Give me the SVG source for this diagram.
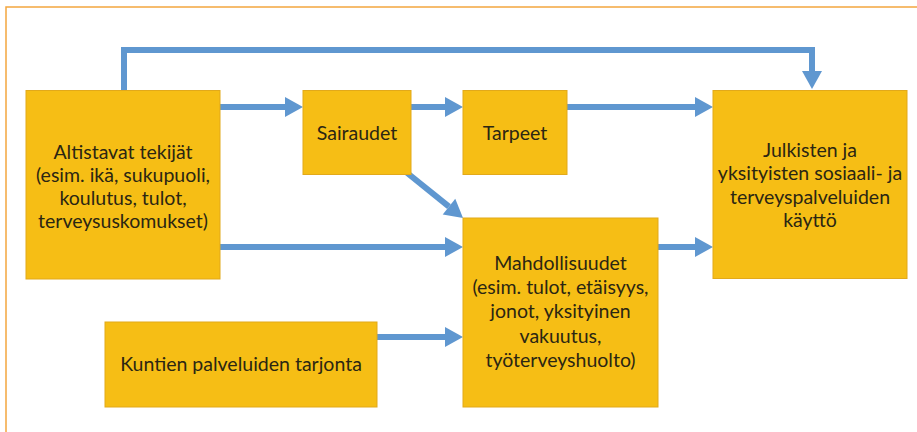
<svg xmlns="http://www.w3.org/2000/svg" width="917" height="432" viewBox="0 0 917 432">
  <defs>
    <style>
      .box { fill: #F6BE15; stroke: #E2A91A; stroke-width: 1; }
      .lbl { font-family: Lato, "Open Sans", "Liberation Sans", sans-serif; font-size: 19.5px; fill: #2B2613; text-anchor: middle; }
      .conn { fill: none; stroke: #5F97D0; stroke-width: 6; stroke-linejoin: miter; marker-end: url(#ah); }
    </style>
    <marker id="ah" markerUnits="userSpaceOnUse" markerWidth="20" markerHeight="20" refX="0" refY="10" orient="auto" overflow="visible">
      <path d="M0,0 L18,10 L0,20 z" fill="#5F97D0"/>
    </marker>
  </defs>
  <rect x="0" y="0" width="917" height="432" fill="#FFFFFF"/>
  <path d="M6,440 L6,7 L925,7" fill="none" stroke="#F4A63F" stroke-width="1.5"/>

  <g id="connectors">
    <polyline class="conn" points="124,90 124,50 812,50 812,71"/>
    <line class="conn" x1="220" y1="107" x2="285" y2="107"/>
    <line class="conn" x1="411" y1="107" x2="445" y2="107"/>
    <line class="conn" x1="567" y1="107" x2="695" y2="107"/>
    <line class="conn" x1="406" y1="172" x2="449" y2="206.6"/>
    <line class="conn" x1="220" y1="247" x2="445" y2="247"/>
    <line class="conn" x1="658" y1="247" x2="695" y2="247"/>
    <line class="conn" x1="377" y1="337" x2="445" y2="337"/>
  </g>

  <g id="altistavat">
    <rect class="box" x="26" y="90.5" width="194" height="188.5"/>
    <text class="lbl" x="123" y="159">Altistavat tekijät</text>
    <text class="lbl" x="123" y="182">(esim. ikä, sukupuoli,</text>
    <text class="lbl" x="123" y="205">koulutus, tulot,</text>
    <text class="lbl" x="123" y="228">terveysuskomukset)</text>
  </g>

  <g id="sairaudet">
    <rect class="box" x="303" y="90.5" width="108" height="84"/>
    <text class="lbl" x="357" y="140">Sairaudet</text>
  </g>

  <g id="tarpeet">
    <rect class="box" x="463" y="90.5" width="104" height="84"/>
    <text class="lbl" x="515" y="140">Tarpeet</text>
  </g>

  <g id="kaytto">
    <rect class="box" x="713" y="90.5" width="194" height="188"/>
    <text class="lbl" x="810" y="157">Julkisten ja</text>
    <text class="lbl" x="810" y="180">yksityisten sosiaali- ja</text>
    <text class="lbl" x="810" y="204">terveyspalveluiden</text>
    <text class="lbl" x="810" y="227">käyttö</text>
  </g>

  <g id="mahdollisuudet">
    <rect class="box" x="463" y="218" width="195" height="189"/>
    <text class="lbl" x="560.5" y="270">Mahdollisuudet</text>
    <text class="lbl" x="560.5" y="294">(esim. tulot, etäisyys,</text>
    <text class="lbl" x="560.5" y="318">jonot, yksityinen</text>
    <text class="lbl" x="560.5" y="343">vakuutus,</text>
    <text class="lbl" x="560.5" y="367">työterveyshuolto)</text>
  </g>

  <g id="kuntien">
    <rect class="box" x="105" y="322" width="272" height="85"/>
    <text class="lbl" x="241" y="371">Kuntien palveluiden tarjonta</text>
  </g>
</svg>
